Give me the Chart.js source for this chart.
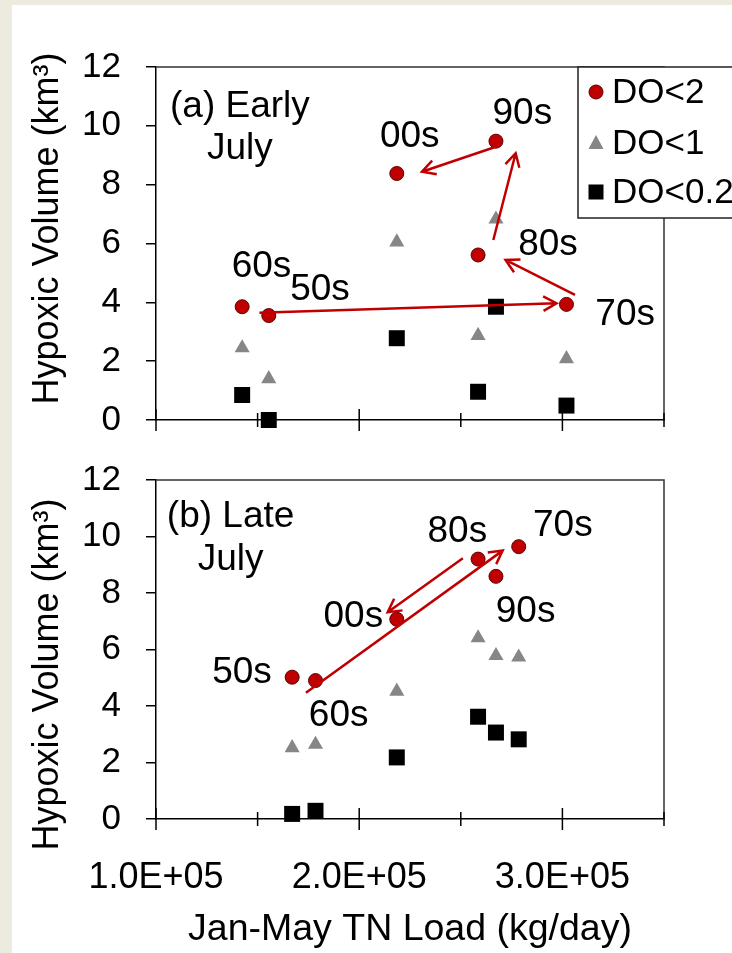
<!DOCTYPE html>
<html>
<head>
<meta charset="utf-8">
<script src="https://cdn.jsdelivr.net/npm/chart.js@4.4.1/dist/chart.umd.min.js"></script>
<style>
  html, body { margin: 0; padding: 0; }
  body { width: 732px; height: 953px; background: #edeae0; position: relative; overflow: hidden; }
  #paper { position: absolute; left: 12px; top: 5px; right: 0; bottom: 0; background: #fff; }
  canvas { position: absolute; left: 0; }
  #chartA { top: 0; }
  #chartB { top: 430px; }
</style>
</head>
<body>
<div id="paper"></div>
<canvas id="chartA" width="732" height="470"></canvas>
<canvas id="chartB" width="732" height="523"></canvas>
<script>
// decades, same order as every array below
const decades = ['50s', '60s', '70s', '80s', '90s', '00s'];
const seriesNames = ['DO<2', 'DO<1', 'DO<0.2'];

// (a) Early July
const loadA = [155500, 142400, 302000, 258500, 267300, 218500];
const do2A  = [3.55, 3.85, 3.93, 5.61, 9.48, 8.38];
const do1A  = [1.40, 2.45, 2.08, 2.87, 6.83, 6.05];
const do02A = [0.00, 0.85, 0.49, 0.96, 3.85, 2.78];

// (b) Late July
const loadB = [167000, 178500, 278500, 258500, 267300, 218500];
const do2B  = [5.02, 4.90, 9.64, 9.20, 8.59, 7.07];
const do1B  = [2.52, 2.64, 5.73, 6.41, 5.78, 4.52];
const do02B = [0.18, 0.29, 2.82, 3.62, 3.06, 2.18];

// decade labels anchors [load, volume]
const labelAtA = [[180700, 4.42], [151900, 5.21], [330900, 3.57], [292900, 5.95], [280300, 10.42], [224900, 9.63]];
const labelAtB = [[142300, 5.16], [189900, 3.65], [300200, 10.38], [248300, 10.17], [281900, 7.34], [197100, 7.16]];

// arrows [fromLoad, fromVol, toLoad, toVol]
const arrowsA = [[150900, 3.65, 297100, 3.97], [306200, 4.25, 272000, 5.44], [266000, 6.12, 277000, 9.07], [267300, 9.29, 230900, 8.44]];
const arrowsB = [[173800, 4.47, 270600, 9.50], [251000, 9.23, 214000, 7.32]];

// panel headings
const headingA = ['(a) Early', 'July'];
const headingB = ['(b) Late', 'July'];
const headingAtA = [[141300, 10.64], [141300, 9.21]];
const headingAtB = [[136700, 10.69], [136700, 9.17]];

const xTicks = [100000, 150000, 200000, 250000, 300000, 350000];
const xTickLabels = ['1.0E+05', '', '2.0E+05', '', '3.0E+05', ''];
const yTitle = 'Hypoxic Volume (km³)';
const xTitle = 'Jan-May TN Load (kg/day)';

const RED = '#c00000';
const FONT = "'Liberation Sans', Arial, sans-serif";
Chart.defaults.font.family = FONT;
Chart.defaults.font.size = 35;
Chart.defaults.color = '#000';

function pts(xs, ys) {
    return xs.map((x, i) => ({ x: x, y: ys[i] }));
}

function makeDatasets(xs, a, b, c) {
    return [
        { label: seriesNames[0], data: pts(xs, a), pointStyle: 'circle', pointRadius: 7,
          backgroundColor: RED, borderColor: '#5a0000', borderWidth: 1, clip: false },
        { label: seriesNames[1], data: pts(xs, b), pointStyle: 'triangle', pointRadius: 8.7,
          backgroundColor: '#868686', borderColor: '#868686', borderWidth: 0, clip: false },
        { label: seriesNames[2], data: pts(xs, c), pointStyle: 'rect', pointRadius: 11.3,
          backgroundColor: '#000', borderColor: '#000', borderWidth: 0, clip: false }
    ];
}

// box round the plot and x tick marks crossing the axis
const framePlugin = {
    id: 'frame',
    afterDatasetsDraw(chart) {
        const { ctx, chartArea: ca, scales } = chart;
        ctx.save();
        ctx.strokeStyle = '#333';
        ctx.lineWidth = 1.5;
        ctx.beginPath();
        ctx.moveTo(ca.left, ca.top);
        ctx.lineTo(ca.right, ca.top);
        ctx.lineTo(ca.right, ca.bottom);
        ctx.stroke();
        ctx.strokeStyle = '#000';
        xTicks.forEach(v => {
            const px = scales.x.getPixelForValue(v);
            const len = v % 100000 === 0 ? 11 : 7;
            ctx.beginPath();
            ctx.moveTo(px, ca.bottom - len);
            ctx.lineTo(px, ca.bottom + len);
            ctx.stroke();
        });
        ctx.restore();
    }
};

// arrows, decade labels, heading
const notesPlugin = {
    id: 'notes',
    afterDatasetsDraw(chart, args, opts) {
        const { ctx, scales } = chart;
        const X = v => scales.x.getPixelForValue(v);
        const Y = v => scales.y.getPixelForValue(v);
        ctx.save();
        ctx.strokeStyle = RED;
        ctx.lineWidth = 2.5;
        opts.arrows.forEach(a => {
            const x1 = X(a[0]), y1 = Y(a[1]), x2 = X(a[2]), y2 = Y(a[3]);
            const ang = Math.atan2(y2 - y1, x2 - x1);
            const head = 15, spread = 0.5;
            ctx.beginPath();
            ctx.moveTo(x1, y1);
            ctx.lineTo(x2, y2);
            ctx.moveTo(x2 - head * Math.cos(ang - spread), y2 - head * Math.sin(ang - spread));
            ctx.lineTo(x2, y2);
            ctx.lineTo(x2 - head * Math.cos(ang + spread), y2 - head * Math.sin(ang + spread));
            ctx.stroke();
        });
        ctx.fillStyle = '#000';
        ctx.font = '37px ' + FONT;
        ctx.textAlign = 'center';
        ctx.textBaseline = 'middle';
        decades.forEach((d, i) => {
            const p = opts.labelAt[i];
            ctx.fillText(d, X(p[0]), Y(p[1]));
        });
        opts.heading.forEach((t, i) => {
            const p = opts.headingAt[i];
            ctx.fillText(t, X(p[0]), Y(p[1]));
        });
        ctx.restore();
    }
};

// legend box sitting on the top right corner of panel (a)
const legendPlugin = {
    id: 'boxLegend',
    afterDraw(chart, args, opts) {
        if (!opts.show) return;
        const { ctx, chartArea: ca } = chart;
        const left = ca.right - 86, top = ca.top, h = 151;
        ctx.save();
        ctx.fillStyle = '#fff';
        ctx.fillRect(left, top, 200, h);
        ctx.strokeStyle = '#222';
        ctx.lineWidth = 1.5;
        ctx.strokeRect(left, top, 200, h);
        const rows = [25, 76, 125];
        chart.data.datasets.forEach((ds, i) => {
            const mx = left + 18, my = top + rows[i];
            ctx.fillStyle = ds.backgroundColor;
            ctx.beginPath();
            if (ds.pointStyle === 'circle') {
                ctx.arc(mx, my, 7, 0, Math.PI * 2);
                ctx.fill();
                ctx.strokeStyle = ds.borderColor;
                ctx.lineWidth = 1;
                ctx.stroke();
            } else if (ds.pointStyle === 'triangle') {
                ctx.moveTo(mx, my - 8);
                ctx.lineTo(mx + 7.5, my + 6);
                ctx.lineTo(mx - 7.5, my + 6);
                ctx.closePath();
                ctx.fill();
            } else {
                ctx.fillRect(mx - 7.5, my - 7.5, 15, 15);
            }
            ctx.fillStyle = '#000';
            ctx.font = '35px ' + FONT;
            ctx.textAlign = 'left';
            ctx.textBaseline = 'middle';
            ctx.fillText(ds.label, left + 34, my + 1);
        });
        ctx.restore();
    }
};

function makeChart(id, datasets, cfg) {
    return new Chart(document.getElementById(id), {
        type: 'scatter',
        data: { datasets: datasets },
        plugins: [framePlugin, notesPlugin, legendPlugin],
        options: {
            responsive: false,
            animation: false,
            events: [],
            layout: { padding: { top: cfg.padTop, right: 68, bottom: 0, left: 0 } },
            plugins: {
                legend: { display: false },
                tooltip: { enabled: false },
                notes: { arrows: cfg.arrows, labelAt: cfg.labelAt, heading: cfg.heading, headingAt: cfg.headingAt },
                boxLegend: { show: cfg.legend }
            },
            scales: {
                x: {
                    type: 'linear',
                    min: 100000,
                    max: 350000,
                    afterBuildTicks: s => { s.ticks = xTicks.map(v => ({ value: v })); },
                    ticks: {
                        display: cfg.xLabels,
                        autoSkip: false,
                        maxRotation: 0,
                        minRotation: 0,
                        padding: 37,
                        font: { size: 36 },
                        callback: (v, i) => xTickLabels[i]
                    },
                    grid: { display: false, drawTicks: false },
                    border: { display: true, color: '#000', width: 1.5 },
                    title: { display: cfg.xLabels, text: xTitle, font: { size: 37.5 }, padding: { top: 0, bottom: 1 } },
                    afterFit: s => { s.height = cfg.xHeight; }
                },
                y: {
                    min: 0,
                    max: 12,
                    ticks: { stepSize: 2, padding: 25 },
                    grid: { drawOnChartArea: false, tickLength: 10, color: '#000', lineWidth: 1.5 },
                    border: { display: true, color: '#000', width: 1.5 },
                    title: { display: true, text: cfg.yTitle, font: { size: 36 }, padding: { top: 26, bottom: 0 } },
                    afterFit: s => { s.width = 156; }
                }
            }
        }
    });
}

makeChart('chartA', makeDatasets(loadA, do2A, do1A, do02A), {
    padTop: 67, xHeight: 50, xLabels: false, legend: true,
    arrows: arrowsA, labelAt: labelAtA, heading: headingA, headingAt: headingAtA,
    yTitle: '   ' + yTitle
});

makeChart('chartB', makeDatasets(loadB, do2B, do1B, do02B), {
    padTop: 50, xHeight: 134, xLabels: true, legend: false,
    arrows: arrowsB, labelAt: labelAtB, heading: headingB, headingAt: headingAtB,
    yTitle: yTitle + '     '
});
</script>
</body>
</html>
